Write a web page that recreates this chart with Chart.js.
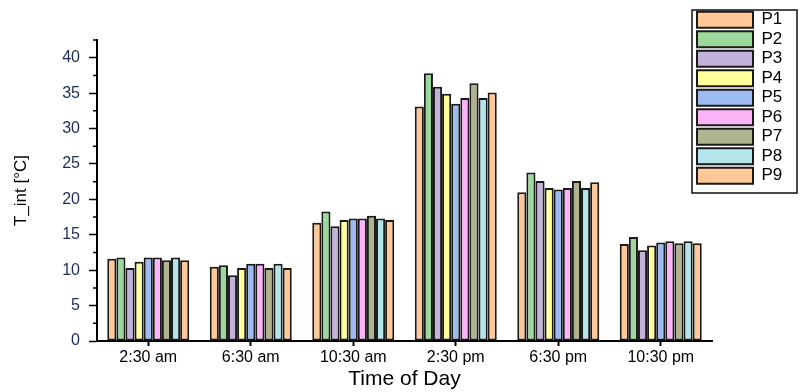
<!DOCTYPE html>
<html>
<head>
<meta charset="utf-8">
<script src="https://cdn.jsdelivr.net/npm/chart.js@4"></script>
<style>
  html, body { margin: 0; padding: 0; background: #fff; }
  #wrap { width: 800px; height: 392px; }
</style>
</head>
<body>
<div id="wrap"><canvas id="myGraph" width="800" height="392"></canvas></div>
<script>
const graph = document.getElementById('myGraph');

const times = ['2:30 am', '6:30 am', '10:30 am', '2:30 pm', '6:30 pm', '10:30 pm'];
const seriesNames = ['P1', 'P2', 'P3', 'P4', 'P5', 'P6', 'P7', 'P8', 'P9'];

const p1 = [11.6, 10.5, 16.7, 33.1, 21.0, 13.7];
const p2 = [11.8, 10.7, 18.3, 37.8, 23.8, 14.7];
const p3 = [10.3, 9.3, 16.2, 35.9, 22.6, 12.8];
const p4 = [11.2, 10.3, 17.1, 34.9, 21.6, 13.5];
const p5 = [11.8, 10.9, 17.3, 33.5, 21.4, 13.9];
const p6 = [11.8, 10.9, 17.3, 34.3, 21.6, 14.1];
const p7 = [11.4, 10.3, 17.7, 36.4, 22.6, 13.8];
const p8 = [11.8, 10.9, 17.3, 34.3, 21.6, 14.1];
const p9 = [11.4, 10.3, 17.1, 35.1, 22.4, 13.8];

const colors = [
  '#FFC896', '#9CD79C', '#C3B3DA', '#FFFF9C', '#9DBBF0',
  '#FCB3F8', '#B0B48E', '#B3E5EB', '#FFC896'
];

const allSeries = [p1, p2, p3, p4, p5, p6, p7, p8, p9];

const data = {
  labels: times,
  datasets: allSeries.map((vals, i) => ({
    label: seriesNames[i],
    data: vals,
    backgroundColor: colors[i],
    borderColor: '#1a1a1a',
    borderWidth: 2,
    borderSkipped: false,
    inflateAmount: 0,
    categoryPercentage: 0.8,
    barPercentage: 1.0
  }))
};

const font = 'Liberation Sans, Arial, sans-serif';

// minor ticks on y, legend frame, legend placement
const extras = {
  id: 'extras',
  afterLayout(chart) {
    const lg = chart.legend;
    const w = lg.width, h = lg.height;
    lg.left = 694.5; lg.top = 8.7;
    lg.right = lg.left + w; lg.bottom = lg.top + h;
  },
  afterDraw(chart) {
    const ctx = chart.ctx;
    const y = chart.scales.y;
    ctx.save();
    ctx.strokeStyle = '#000';
    ctx.lineWidth = 1.5;
    ctx.beginPath();
    for (let v = 2.5; v <= 42.5; v += 5) {
      const py = y.getPixelForValue(v);
      ctx.moveTo(y.right - 4, py);
      ctx.lineTo(y.right, py);
    }
    ctx.stroke();
    ctx.strokeStyle = '#111';
    ctx.lineWidth = 1.5;
    ctx.strokeRect(692, 10, 105, 183);
    ctx.restore();
  }
};

new Chart(graph, {
  type: 'bar',
  data: data,
  plugins: [extras],
  options: {
    responsive: false,
    animation: false,
    datasets: { bar: { categoryPercentage: 0.8, barPercentage: 1.0 } },
    layout: { padding: { left: 0, right: 0, top: 40, bottom: 0 } },
    plugins: {
      tooltip: { enabled: false },
      legend: {
        position: 'right',
        align: 'start',
        maxWidth: 88,
        labels: {
          boxWidth: 56,
          boxHeight: 16,
          padding: 2.5,
          color: '#000',
          font: { family: font, size: 17 }
        }
      }
    },
    scales: {
      x: {
        grid: { display: true, drawOnChartArea: false, offset: false, tickLength: 5, tickColor: '#000', tickWidth: 2 },
        border: { color: '#000', width: 2 },
        ticks: { color: '#000', padding: 2, maxRotation: 0, font: { family: font, size: 16 } },
        title: { display: true, text: 'Time of Day', color: '#000', padding: { top: 0, bottom: 0 }, font: { family: font, size: 21 } },
        afterFit(scale) { scale.height = 51; }
      },
      y: {
        min: 0,
        max: 42.5,
        grid: { display: true, drawOnChartArea: false, tickLength: 8, tickColor: '#000', tickWidth: 1.5 },
        border: { color: '#000', width: 2 },
        ticks: { stepSize: 5, includeBounds: false, color: '#1c2b5c', padding: 9, font: { family: font, size: 16 } },
        title: { display: true, text: 'T_int [°C]', color: '#000', padding: { top: 11, bottom: 0 }, font: { family: font, size: 17 } },
        afterFit(scale) { scale.width = 97; }
      }
    }
  }
});
</script>
</body>
</html>
